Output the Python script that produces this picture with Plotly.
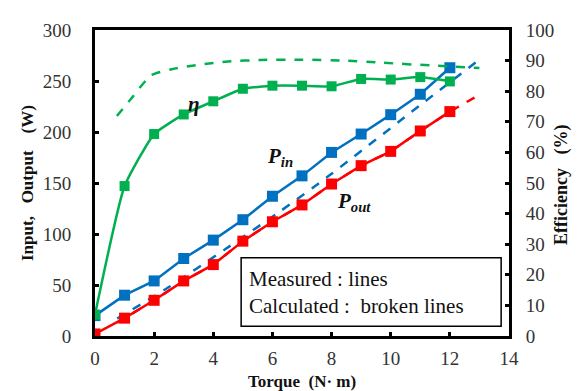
import plotly.graph_objects as go

torque = [0, 1, 2, 3, 4, 5, 6, 7, 8, 9, 10, 11, 12]
p_in_meas = [20, 40, 54, 76, 94, 114, 137, 157, 180, 198, 217, 237, 263]
p_out_meas = [2, 17.5, 35, 54, 70, 93, 112, 128.5, 149, 167, 181, 201, 220]
eff_meas = [7, 49, 66, 72.4, 76.7, 80.8, 81.8, 81.8, 81.6, 84, 83.8, 84.6, 83.2]

calc_p_in_x = [0.75, 2.5, 4.4, 6.3, 8.0, 11.16, 13.0]
calc_p_in = [17, 48, 85, 123, 159, 230, 271]
calc_p_out_x = [0.75, 1, 2, 3, 4, 5, 6, 7, 8, 9, 10, 11, 12, 13.0]
calc_p_out = [13, 17.5, 35, 54, 70, 93, 112, 128.5, 149, 167, 181, 201, 220, 236.5]
calc_eff_x = [0.74, 1.2, 1.9, 2.6, 3.5, 4.5, 5.6, 7.0, 8.5, 9.7, 11.4, 13.0]
calc_eff = [71.9, 77.3, 85.2, 87.2, 88.6, 89.7, 90.2, 90.3, 90.0, 89.3, 88.4, 87.6]

BLUE = "#0070C0"
RED = "#FF0000"
GREEN = "#00B050"
FONT = "Liberation Serif"
NB = "&nbsp;"

fig = go.Figure()

# calculated (broken lines)
fig.add_trace(go.Scatter(x=calc_eff_x, y=calc_eff, yaxis="y2", mode="lines",
                         line=dict(color=GREEN, width=2.5, dash="dash", shape="spline", smoothing=0.6)))
fig.add_trace(go.Scatter(x=calc_p_in_x, y=calc_p_in, mode="lines",
                         line=dict(color=BLUE, width=2.5, dash="dash", shape="spline", smoothing=0.5)))
fig.add_trace(go.Scatter(x=calc_p_out_x, y=calc_p_out, mode="lines",
                         line=dict(color=RED, width=2.5, dash="dash")))

# measured
fig.add_trace(go.Scatter(x=torque, y=p_in_meas, mode="lines+markers",
                         line=dict(color=BLUE, width=2.5),
                         marker=dict(symbol="square", size=11, color=BLUE)))
fig.add_trace(go.Scatter(x=torque, y=p_out_meas, mode="lines+markers",
                         line=dict(color=RED, width=2.5),
                         marker=dict(symbol="square", size=11, color=RED)))
fig.add_trace(go.Scatter(x=torque, y=eff_meas, yaxis="y2", mode="lines+markers",
                         line=dict(color=GREEN, width=2.5, shape="spline", smoothing=0.45),
                         marker=dict(symbol="square", size=10, color=GREEN)))

tickfont = dict(family=FONT, size=19, color="#333333")
axis_common = dict(showgrid=False, zeroline=False, showline=True, linecolor="black",
                   linewidth=3, ticks="inside", ticklen=4, tickwidth=3, tickcolor="black",
                   tickfont=tickfont)

fig.update_layout(
    width=580, height=391,
    margin=dict(l=87, r=79, t=20, b=63),
    paper_bgcolor="white", plot_bgcolor="white",
    showlegend=False,
    font=dict(family=FONT),
    xaxis=dict(range=[0, 14], dtick=2, mirror=True, ticklabelstandoff=3, **axis_common),
    yaxis=dict(range=[0, 300], dtick=50, ticklabelstandoff=17, **axis_common),
    yaxis2=dict(range=[0, 100], dtick=10, overlaying="y", side="right",
                ticklabelstandoff=10, **axis_common),
)

# axis titles
fig.add_annotation(xref="paper", yref="paper", x=(294 - 87) / 414, y=(328 - 374) / 308,
                   xanchor="center", yanchor="middle", showarrow=False,
                   text="<b>Torque" + NB * 2 + "(N· m)</b>",
                   font=dict(family=FONT, size=17, color="#111111"))
fig.add_annotation(xref="paper", yref="paper", x=(19 - 87) / 414, y=(328 - 174) / 308,
                   xanchor="center", yanchor="middle", textangle=-90, showarrow=False,
                   text="<b>Input," + NB * 3 + "Output" + NB * 4 + "(W)</b>",
                   font=dict(family=FONT, size=17, color="#111111"))
fig.add_annotation(xref="paper", yref="paper", x=(554 - 87) / 414, y=(328 - 176) / 308,
                   xanchor="center", yanchor="middle", textangle=-90, showarrow=False,
                   text="<b>Efficiency" + NB * 3 + "(%)</b>",
                   font=dict(family=FONT, size=18, color="#111111"))

# legend box
fig.add_shape(type="rect", xref="paper", yref="paper",
              x0=0.353, x1=0.981, y0=0.032, y1=0.256,
              line=dict(color="black", width=1.5), fillcolor="white", layer="above")
fig.add_annotation(xref="paper", yref="paper", x=0.366, y=0.187, xanchor="left", yanchor="middle",
                   text="Measured : lines", showarrow=False,
                   font=dict(family=FONT, size=21, color="#111111"))
fig.add_annotation(xref="paper", yref="paper", x=0.366, y=0.097, xanchor="left", yanchor="middle",
                   text="Calculated" + NB + ":" + NB * 2 + "broken lines", showarrow=False,
                   font=dict(family=FONT, size=21, color="#111111"))

# curve labels
lab = dict(family=FONT, size=21, color="#111111")
fig.add_annotation(xref="paper", yref="paper", x=(178 - 87) / 414, y=(328 - 80) / 308,
                   text="<b><i>η</i></b>", showarrow=False, font=lab)
fig.add_annotation(xref="paper", yref="paper", x=(272 - 87) / 414, y=(328 - 148) / 308,
                   text="<b><i>P</i></b><sub><b><i>in</i></b></sub>", showarrow=False, font=lab)
fig.add_annotation(xref="paper", yref="paper", x=(365 - 87) / 414, y=(328 - 193) / 308,
                   text="<b><i>P</i></b><sub><b><i>out</i></b></sub>", showarrow=False, font=lab)

fig.write_html("out.html")
